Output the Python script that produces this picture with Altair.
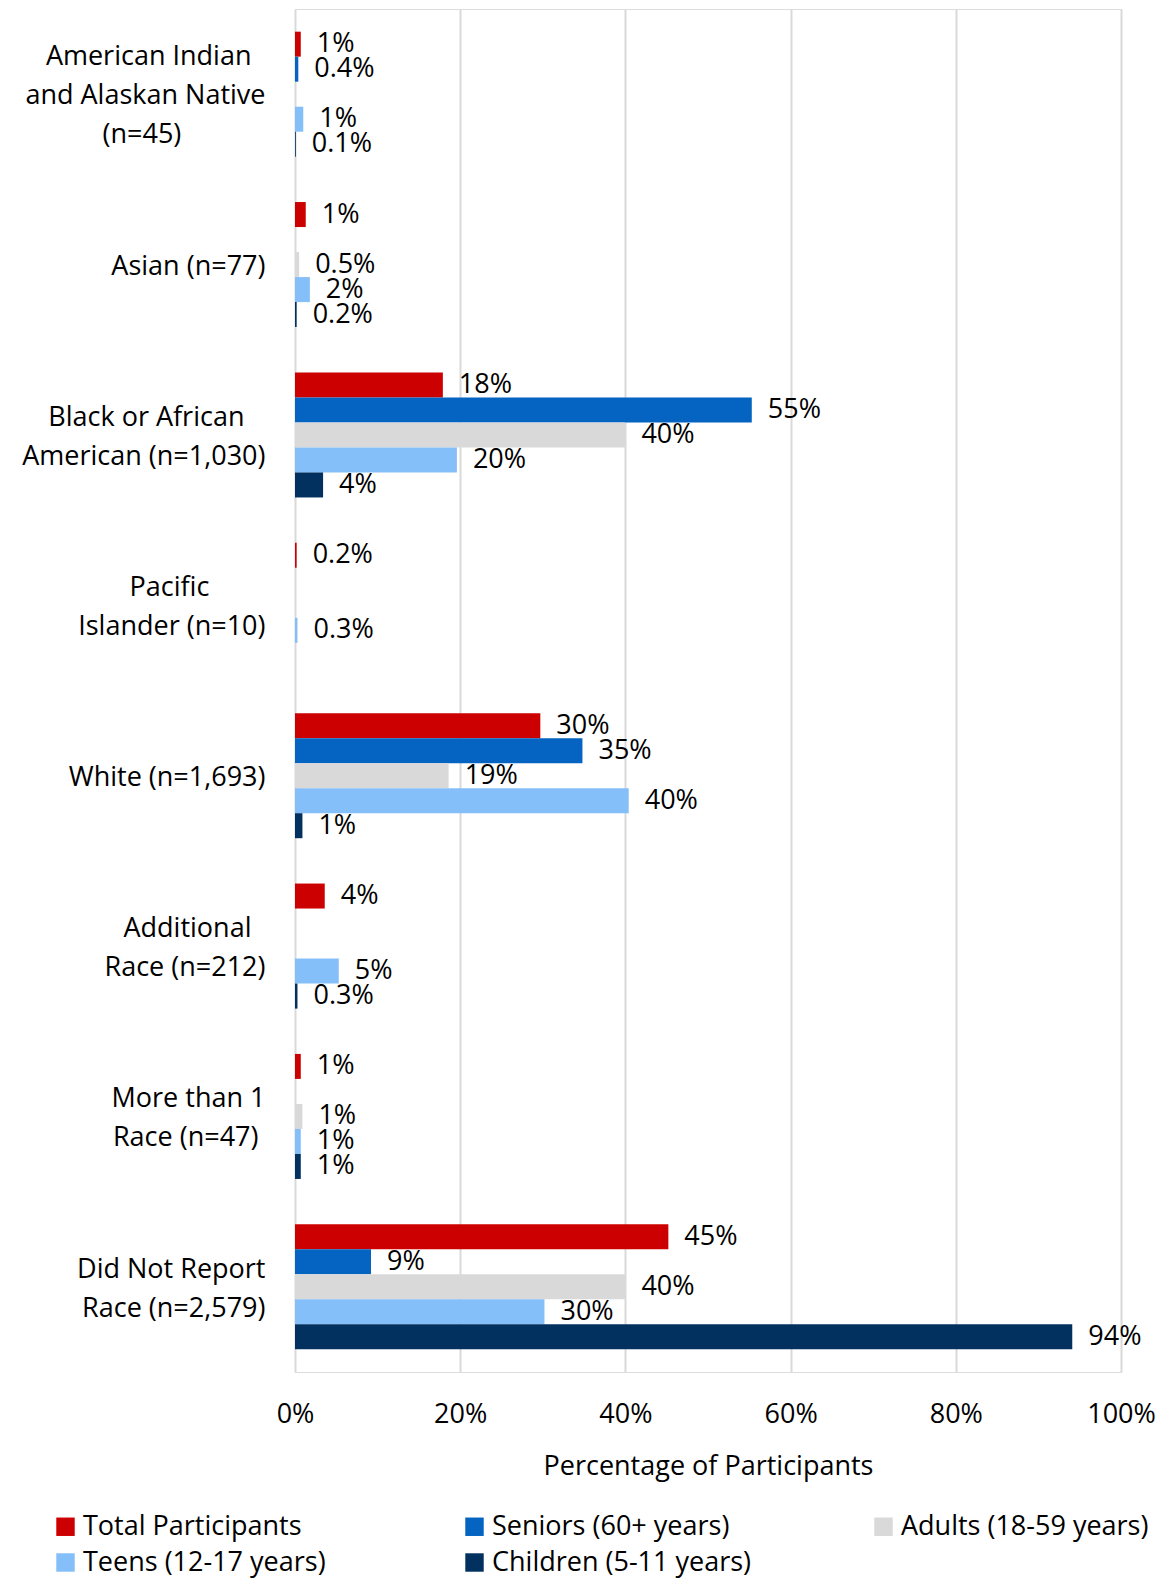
import altair as alt
import pandas as pd

categories = [
    "American Indian|and Alaskan Native|(n=45)",
    "Asian (n=77)",
    "Black or African|American (n=1,030)",
    "Pacific|Islander (n=10)",
    "White (n=1,693)",
    "Additional|Race (n=212)",
    "More than 1|Race (n=47)",
    "Did Not Report|Race (n=2,579)",
]
series = [
    "Total Participants",
    "Seniors (60+ years)",
    "Adults (18-59 years)",
    "Teens (12-17 years)",
    "Children (5-11 years)",
]
colors = ["#CC0000", "#0563C1", "#D9D9D9", "#85BFF9", "#023160"]

# values in percent (None = no bar)
total_vals = [0.7, 1.3, 17.9, 0.2, 29.7, 3.6, 0.7, 45.2]
total_lbls = ["1%", "1%", "18%", "0.2%", "30%", "4%", "1%", "45%"]
seniors_vals = [0.4, None, 55.3, None, 34.8, None, None, 9.2]
seniors_lbls = ["0.4%", None, "55%", None, "35%", None, None, "9%"]
adults_vals = [None, 0.5, 40.0, None, 18.6, None, 0.9, 40.0]
adults_lbls = [None, "0.5%", "40%", None, "19%", None, "1%", "40%"]
teens_vals = [1.0, 1.8, 19.6, 0.3, 40.4, 5.3, 0.7, 30.2]
teens_lbls = ["1%", "2%", "20%", "0.3%", "40%", "5%", "1%", "30%"]
children_vals = [0.1, 0.2, 3.4, None, 0.9, 0.3, 0.7, 94.1]
children_lbls = ["0.1%", "0.2%", "4%", None, "1%", "0.3%", "1%", "94%"]

all_vals = [total_vals, seniors_vals, adults_vals, teens_vals, children_vals]
all_lbls = [total_lbls, seniors_lbls, adults_lbls, teens_lbls, children_lbls]

# approximate Open Sans advance widths (em) used to centre the lines of each
# right-aligned category label block, as in the original
W = {
    "A": .633, "B": .635, "D": .722, "I": .297, "M": .903, "N": .765, "P": .603,
    "R": .626, "W": .948, "a": .556, "c": .476, "d": .613, "e": .561, "f": .339,
    "h": .614, "i": .253, "k": .525, "l": .253, "m": .930, "n": .614, "o": .604,
    "p": .613, "r": .408, "s": .477, "t": .353, "v": .501, "(": .295, ")": .295,
    "=": .572, ",": .244, " ": .260,
}
for d in "0123456789":
    W[d] = .572


def tw(s):
    return sum(W.get(ch, .56) for ch in s)


def centred(label):
    lines = label.split("|")
    wmax = max(tw(l) for l in lines)
    out = []
    for l in lines:
        n = int(round((wmax - tw(l)) / 2 / 0.26))
        out.append(l + ("\u00a0" * n + "\u200b" if n > 0 else ""))
    return "|".join(out)


display = {c: centred(c) for c in categories}

rows = []
for s, vals, lbls in zip(series, all_vals, all_lbls):
    for c, v, l in zip(categories, vals, lbls):
        if v is not None:
            rows.append({"category": display[c], "series": s, "value": v / 100.0, "label": l})
df = pd.DataFrame(rows)
cat_order = [display[c] for c in categories]

FONT = "Open Sans"
FS = 27

nlines = "length(split(datum.value, '|'))"
y_enc = alt.Y(
    "category:N",
    sort=cat_order,
    title=None,
    scale=alt.Scale(paddingInner=0.266, paddingOuter=0.133),
    axis=alt.Axis(
        labelExpr="split(datum.label, '|')",
        labelFont=FONT,
        labelFontSize=FS,
        labelLineHeight=39,
        labelColor="black",
        labelPadding=30,
        labelAlign="right",
        labelOffset=-17,
        labelBaseline=alt.ConditionalAxisLabelBaseline(
            condition=[
                {"test": nlines + " == 1", "value": "line-top"},
                {"test": nlines + " == 3", "value": "line-bottom"},
            ],
            value="middle",
        ),
        labelLimit=400,
        ticks=False,
        domain=False,
        grid=False,
    ),
)
yoff = alt.YOffset("series:N", sort=series, scale=alt.Scale(paddingInner=0, paddingOuter=0))
x_enc = alt.X(
    "value:Q",
    title="Percentage of Participants",
    scale=alt.Scale(domain=[0, 1], nice=False),
    axis=alt.Axis(
        format=".0%",
        values=[0, 0.2, 0.4, 0.6, 0.8, 1.0],
        labelFont=FONT,
        labelFontSize=FS,
        labelColor="black",
        labelPadding=29,
        labelFlush=False,
        titleFont=FONT,
        titleFontSize=FS,
        titleFontWeight="normal",
        titleColor="black",
        titlePadding=26,
        ticks=False,
        domain=False,
        grid=True,
        gridColor="#D9D9D9",
        gridWidth=2,
    ),
)

bars = alt.Chart(df).mark_bar(size=25).encode(
    x=x_enc,
    y=y_enc,
    yOffset=yoff,
    color=alt.Color(
        "series:N",
        sort=series,
        scale=alt.Scale(domain=series, range=colors),
        legend=alt.Legend(
            title=None,
            orient="none",
            direction="horizontal",
            legendX=-243,
            legendY=1504,
            columns=3,
            gridAlign="all",
            columnPadding=118,
            rowPadding=8,
            symbolType="square",
            symbolSize=340,
            symbolStrokeWidth=0,
            labelFont=FONT,
            labelFontSize=FS,
            labelColor="black",
            labelLimit=400,
            labelOffset=4,
        ),
    ),
)

texts = alt.Chart(df).mark_text(
    align="left", baseline="middle", dx=16, font=FONT, fontSize=FS, color="black"
).encode(
    x="value:Q",
    y=alt.Y("category:N", sort=cat_order),
    yOffset=alt.YOffset("series:N", sort=series),
    text="label:N",
)

chart = (
    alt.layer(bars, texts)
    .properties(
        width=826,
        height=1363,
        autosize=alt.AutoSizeParams(type="none"),
        padding={"left": 295, "top": 9, "right": 50, "bottom": 207},
    )
    .configure_view(strokeWidth=0, stroke="transparent")
    .configure(background="white")
)

chart.save("out.html", embed_options={"renderer": "svg", "actions": False})
